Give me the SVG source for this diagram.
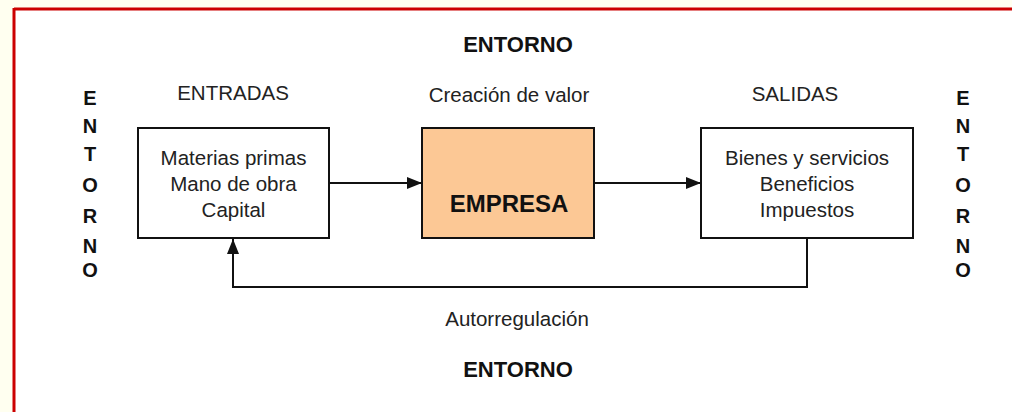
<svg xmlns="http://www.w3.org/2000/svg" width="1012" height="412" viewBox="0 0 1012 412">
<style>
.t{font-family:"Liberation Sans",Arial,sans-serif;font-size:20.5px;fill:#222;text-anchor:middle}
.b{font-family:"Liberation Sans",Arial,sans-serif;font-weight:bold;fill:#111;text-anchor:middle}
.box{fill:#fff;stroke:#111;stroke-width:2}
.ln{fill:none;stroke:#111;stroke-width:2}
</style>
<defs>
<marker id="ah" markerWidth="16" markerHeight="12" refX="15" refY="6" orient="auto" markerUnits="userSpaceOnUse">
<path d="M0,0 L15,6 L0,12 Z" fill="#111"/>
</marker>
</defs>
<rect x="0" y="0" width="1012" height="412" fill="#FFFFF0"/>
<rect x="14" y="9" width="1000" height="405" fill="#fff"/>
<line x1="14" y1="9" x2="1012" y2="9" stroke="#CC0000" stroke-width="3"/>
<line x1="14" y1="8" x2="14" y2="412" stroke="#CC0000" stroke-width="3"/>

<g id="labels">
<text class="b" x="518" y="52" font-size="22">ENTORNO</text>
<text class="b" x="518" y="377" font-size="22">ENTORNO</text>
<text class="t" x="233" y="100">ENTRADAS</text>
<text class="t" x="509" y="102">Creación de valor</text>
<text class="t" x="795" y="101">SALIDAS</text>
<text class="t" x="517" y="326">Autorregulación</text>
</g>
<g id="entorno-left" class="b" font-size="20">
<text x="90" y="105">E</text><text x="90" y="133">N</text><text x="90" y="161">T</text><text x="90" y="192">O</text><text x="90" y="223">R</text><text x="90" y="253">N</text><text x="90" y="277">O</text>
</g>
<g id="entorno-right" class="b" font-size="20">
<text x="963" y="105">E</text><text x="963" y="133">N</text><text x="963" y="161">T</text><text x="963" y="192">O</text><text x="963" y="223">R</text><text x="963" y="253">N</text><text x="963" y="277">O</text>
</g>

<g id="entradas">
<rect class="box" x="138" y="128" width="191" height="110"/>
<text class="t" x="233.5" y="165">Materias primas</text>
<text class="t" x="233.5" y="191">Mano de obra</text>
<text class="t" x="233.5" y="217">Capital</text>
</g>
<g id="empresa">
<rect x="422" y="128" width="172" height="110" fill="#FCC895" stroke="#111" stroke-width="2"/>
<text class="b" x="509" y="212" font-size="24">EMPRESA</text>
</g>
<g id="salidas">
<rect class="box" x="701" y="128" width="212" height="110"/>
<text class="t" x="807" y="165">Bienes y servicios</text>
<text class="t" x="807" y="191">Beneficios</text>
<text class="t" x="807" y="217">Impuestos</text>
</g>

<g id="connectors">
<line class="ln" x1="329" y1="183" x2="422" y2="183" marker-end="url(#ah)"/>
<line class="ln" x1="594" y1="183" x2="701" y2="183" marker-end="url(#ah)"/>
<polyline class="ln" points="807,238 807,287 233,287 233,239" marker-end="url(#ah)"/>
</g>
</svg>
